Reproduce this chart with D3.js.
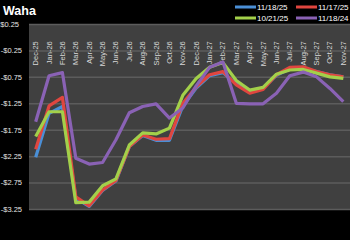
<!DOCTYPE html>
<html>
<head>
<meta charset="utf-8">
<script src="https://cdn.jsdelivr.net/npm/d3@7"></script>
<style>
	body { margin: 0; background: #000; }
	svg { display: block; font-family: "Liberation Sans", Arial, sans-serif; }
</style>
</head>
<body>
<div id="chart"></div>
<script>
// Monthly strip, Dec-25 .. Nov-27
var months = ["Dec-25","Jan-26","Feb-26","Mar-26","Apr-26","May-26","Jun-26","Jul-26","Aug-26","Sep-26","Oct-26","Nov-26",
	"Dec-26","Jan-27","Feb-27","Mar-27","Apr-27","May-27","Jun-27","Jul-27","Aug-27","Sep-27","Oct-27","Nov-27"];
var yTicks = [0.25, -0.25, -0.75, -1.25, -1.75, -2.25, -2.75, -3.25];
var seriesNames = ["11/18/25", "11/17/25", "10/21/25", "11/18/24"];
var seriesColors = ["#4a8fd6", "#e0463f", "#a3d04a", "#8a62b5"];

var curve111825 = [-2.27,-1.44,-1.31,-3.05,-3.20,-2.90,-2.72,-2.07,-1.86,-1.95,-1.95,-1.30,
	-0.96,-0.73,-0.67,-0.88,-1.04,-0.97,-0.72,-0.60,-0.59,-0.65,-0.71,-0.75];
var curve111725 = [-2.12,-1.30,-1.14,-3.02,-3.19,-2.89,-2.71,-2.07,-1.85,-1.93,-1.92,-1.25,
	-0.94,-0.71,-0.65,-0.90,-1.06,-0.99,-0.71,-0.57,-0.56,-0.65,-0.71,-0.75];
var curve102125 = [-1.88,-1.41,-1.41,-3.13,-3.12,-2.81,-2.68,-2.04,-1.81,-1.83,-1.72,-1.10,
	-0.78,-0.57,-0.48,-0.82,-1.00,-0.95,-0.70,-0.62,-0.61,-0.68,-0.75,-0.78];
var curve111824 = [-1.60,-0.73,-0.67,-2.29,-2.40,-2.37,-1.94,-1.43,-1.31,-1.26,-1.53,-1.34,
	-0.92,-0.57,-0.47,-1.25,-1.26,-1.26,-1.06,-0.73,-0.66,-0.75,-0.97,-1.22];

var allCurves = [curve111825, curve111725, curve102125, curve111824];

var width = 350, height = 240;
var plot = { left: 29, top: 24, right: 350, bottom: 209 };

var svg = d3.select("#chart").append("svg")
	.attr("width", width)
	.attr("height", height);

svg.append("rect").attr("width", width).attr("height", height).attr("fill", "#000");

// Title
svg.append("text")
	.attr("x", 3).attr("y", 15)
	.attr("fill", "#fff")
	.style("font-size", "12.5px")
	.style("font-weight", "bold")
	.text("Waha");

var x = d3.scalePoint().domain(months)
	.range([plot.left, plot.right])
	.padding(0.5);
var y = d3.scaleLinear().domain([-3.25, 0.25]).range([plot.bottom, plot.top]);

// Plot area
svg.append("rect")
	.attr("x", plot.left).attr("y", plot.top)
	.attr("width", plot.right - plot.left)
	.attr("height", plot.bottom - plot.top)
	.attr("fill", "#404040");

// Gridlines + value labels
var yAxis = svg.append("g")
	.attr("transform", "translate(" + plot.left + ",0)")
	.call(d3.axisLeft(y).tickValues(yTicks)
		.tickSize(-(plot.right - plot.left))
		.tickPadding(7)
		.tickFormat(function(d){ return (d < 0 ? "-$" : "$") + Math.abs(d).toFixed(2); }));
yAxis.select(".domain").remove();
yAxis.selectAll(".tick line").attr("stroke", "#5c5c5c").attr("stroke-width", 1.5);
yAxis.selectAll(".tick text")
	.attr("fill", "#e6e6e6")
	.style("font-size", "7.5px")
	.style("font-family", "\"Liberation Sans\", Arial, sans-serif")
	.attr("dx", function(d){ return d < 0 ? 0 : -3; });

// Category labels hang off the zero line
var y0 = y(0);
svg.append("g").selectAll("text")
	.data(months)
	.join("text")
	.attr("transform", function(d){ return "translate(" + (x(d) + 2.5) + "," + (y0 + 4) + ") rotate(-90)"; })
	.attr("text-anchor", "end")
	.attr("fill", "#d8d8d8")
	.style("font-size", "7.5px")
	.text(function(d){ return d; });

// Lines
var line = d3.line()
	.x(function(d, i){ return x(months[i]); })
	.y(function(d){ return y(d); });

svg.append("g").selectAll("path")
	.data(allCurves)
	.join("path")
	.attr("d", line)
	.attr("fill", "none")
	.attr("stroke", function(d, i){ return seriesColors[i]; })
	.attr("stroke-width", 3.2)
	.attr("stroke-linejoin", "round");

// Legend, two rows of two
var legend = svg.append("g");
var legendPos = [[235, 7], [296, 7], [235, 18], [296, 18]];
seriesNames.forEach(function(name, i){
	var g = legend.append("g").attr("transform", "translate(" + legendPos[i][0] + "," + legendPos[i][1] + ")");
	g.append("line")
		.attr("x1", 0).attr("x2", 21)
		.attr("stroke", seriesColors[i])
		.attr("stroke-width", 3);
	g.append("text")
		.attr("x", 22).attr("y", 3)
		.attr("fill", "#fff")
		.style("font-size", "8px")
		.text(name);
});
</script>
</body>
</html>
